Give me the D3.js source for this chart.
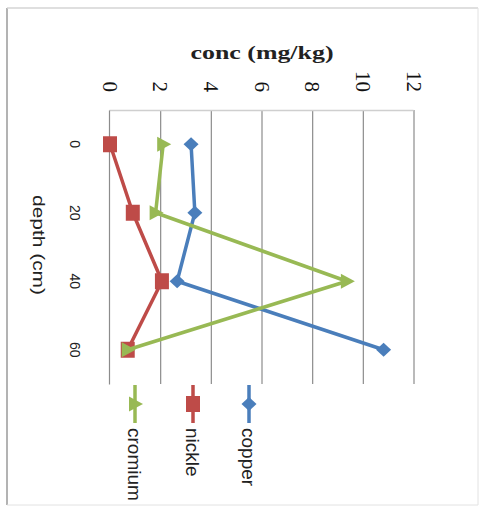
<!DOCTYPE html>
<html>
<head>
<meta charset="utf-8">
<script src="https://cdn.jsdelivr.net/npm/d3@7"></script>
<style>
  html, body { margin: 0; padding: 0; background: #fff; }
  svg { display: block; }
</style>
</head>
<body>
<svg id="chart" width="479" height="506"></svg>
<script>
// Metal concentration by soil depth
const depths = [0, 20, 40, 60];
const copper = [3.2, 3.35, 2.65, 10.8];
const nickle = [0.0, 0.9, 2.05, 0.7];
const cromium = [2.1, 1.8, 9.35, 0.7];
const concTicks = [0, 2, 4, 6, 8, 10, 12];

const seriesNames = ["copper", "nickle", "cromium"];
const seriesValues = [copper, nickle, cromium];
const seriesColors = ["#4a7ebb", "#be4b48", "#98b954"];
const seriesMarkers = ["diamond", "square", "triangle"];

const pageW = 479, pageH = 506;
const svg = d3.select("#chart");

// The chart is laid out in its own frame (width = page height) and turned a quarter turn clockwise.
const W = pageH, H = pageW;
const g = svg.append("g").attr("transform", `translate(${pageW},0) rotate(90)`);

// outer frame
g.append("line").attr("x1", 8).attr("x2", 505).attr("y1", 472).attr("y2", 472)
  .attr("stroke", "#9a9a9a").attr("stroke-width", 1.5);
g.append("line").attr("x1", 8).attr("x2", 8).attr("y1", 1).attr("y2", 472)
  .attr("stroke", "#d4d4d4").attr("stroke-width", 1.5);
g.append("line").attr("x1", 505).attr("x2", 505).attr("y1", 1).attr("y2", 472)
  .attr("stroke", "#e2e2e2").attr("stroke-width", 1);
g.append("line").attr("x1", 8).attr("x2", 505).attr("y1", 1).attr("y2", 1)
  .attr("stroke", "#e2e2e2").attr("stroke-width", 1);

const plot = { left: 110, right: 384, top: 65, bottom: 369 };

const x = d3.scaleBand().domain(depths).range([plot.left, plot.right]);
const y = d3.scaleLinear().domain([0, 12]).range([plot.bottom, plot.top]);
const cx = d => x(d) + x.bandwidth() / 2;

// horizontal gridlines
g.append("g").selectAll("line").data(concTicks.filter(t => t > 0)).join("line")
  .attr("x1", plot.left).attr("x2", plot.right)
  .attr("y1", d => y(d)).attr("y2", d => y(d))
  .attr("stroke", "#8c8c8c").attr("stroke-width", 1.2);

// value axis (left side of the chart frame)
const yAxis = g.append("g").attr("transform", `translate(${plot.left},0)`)
  .call(d3.axisLeft(y).tickValues(concTicks).tickSize(0).tickPadding(18));
yAxis.select(".domain").attr("stroke", "#cfcfcf").attr("stroke-width", 1.5);
yAxis.selectAll("text")
  .attr("font-family", "'Liberation Serif', 'DejaVu Serif', serif")
  .attr("font-size", 21).attr("fill", "#111");

// category axis (bottom of the chart frame)
const xAxis = g.append("g").attr("transform", `translate(0,${plot.bottom})`)
  .call(d3.axisBottom(x).tickSize(0).tickPadding(30));
xAxis.select(".domain").attr("stroke", "#8c8c8c").attr("stroke-width", 1.2);
xAxis.selectAll("text")
  .attr("font-family", "'Liberation Sans', Arial, sans-serif")
  .attr("font-size", 14).attr("fill", "#222");

// axis titles
g.append("text")
  .attr("transform", `translate(59,${(plot.top + plot.bottom) / 2 - 0}) rotate(-90)`)
  .attr("text-anchor", "middle")
  .attr("font-family", "'Liberation Serif', 'DejaVu Serif', serif")
  .attr("font-weight", "bold")
  .attr("font-size", 19).attr("fill", "#222")
  .attr("textLength", 143).attr("lengthAdjust", "spacingAndGlyphs")
  .text("conc (mg/kg)");

g.append("text")
  .attr("x", 245).attr("y", 440).attr("dy", "0.35em")
  .attr("text-anchor", "middle")
  .attr("font-family", "'Liberation Sans', Arial, sans-serif")
  .attr("font-size", 16).attr("fill", "#222")
  .attr("textLength", 100).attr("lengthAdjust", "spacingAndGlyphs")
  .text("depth (cm)");

// marker shapes
function markerPath(kind) {
  if (kind === "diamond") return "M0,-7.5L7,0L0,7.5L-7,0Z";
  if (kind === "square") return "M-8,-7L8,-7L8,7L-8,7Z";
  return "M0,-8L7.5,6L-7.5,6Z";
}

// series lines and markers
const line = d3.line().x(d => cx(d.depth)).y(d => y(d.value));
seriesNames.forEach((name, i) => {
  const pts = depths.map((d, j) => ({ depth: d, value: seriesValues[i][j] }));
  const sg = g.append("g");
  sg.append("path").datum(pts).attr("d", line)
    .attr("fill", "none").attr("stroke", seriesColors[i])
    .attr("stroke-width", 3.5).attr("stroke-linejoin", "round");
  sg.selectAll("path.m").data(pts).join("path").attr("class", "m")
    .attr("d", markerPath(seriesMarkers[i]))
    .attr("transform", d => `translate(${cx(d.depth)},${y(d.value)})`)
    .attr("fill", seriesColors[i]);
});

// legend
const legendY = [230, 286, 344];
const lg = g.append("g");
seriesNames.forEach((name, i) => {
  const ly = legendY[i];
  lg.append("line").attr("x1", 385).attr("x2", 423).attr("y1", ly).attr("y2", ly)
    .attr("stroke", seriesColors[i]).attr("stroke-width", 3.5);
  lg.append("path").attr("d", markerPath(seriesMarkers[i]))
    .attr("transform", `translate(404,${ly})`).attr("fill", seriesColors[i]);
  lg.append("text").attr("x", 428).attr("y", ly).attr("dy", "0.35em")
    .attr("font-family", "'Liberation Sans', Arial, sans-serif")
    .attr("font-size", 19).attr("fill", "#222")
    .text(name);
});
</script>
</body>
</html>
